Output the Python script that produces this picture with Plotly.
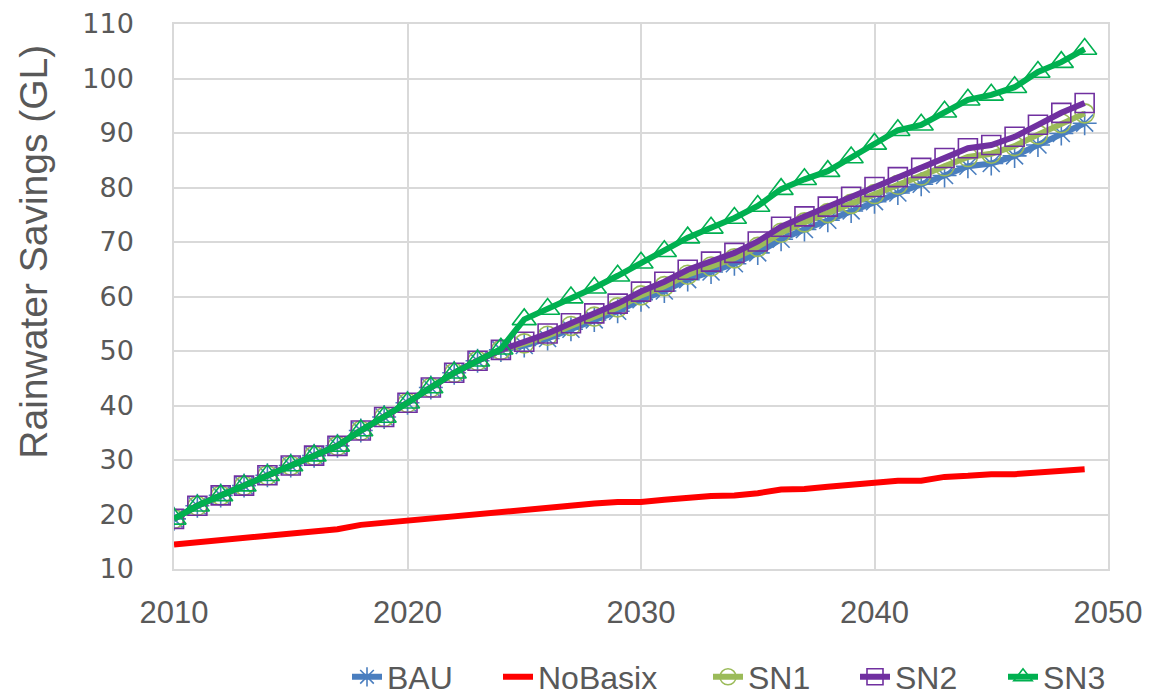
import plotly.graph_objects as go

years = [2010, 2011, 2012, 2013, 2014, 2015, 2016, 2017, 2018, 2019,
         2020, 2021, 2022, 2023, 2024, 2025, 2026, 2027, 2028, 2029,
         2030, 2031, 2032, 2033, 2034, 2035, 2036, 2037, 2038, 2039,
         2040, 2041, 2042, 2043, 2044, 2045, 2046, 2047, 2048, 2049]

bau = [19.2, 21.6, 23.5, 25.3, 27.2, 29.0, 30.8, 32.6, 35.4, 37.9,
       40.5, 43.3, 46.0, 48.2, 50.2, 51.0, 52.3, 54.0, 55.7, 57.3,
       59.4, 61.0, 63.1, 64.5, 66.0, 68.0, 70.5, 72.3, 74.0, 75.7,
       77.4, 79.0, 80.6, 82.2, 83.9, 84.4, 85.8, 87.8, 89.9, 91.8]

nobasix = [14.5, 14.9, 15.3, 15.7, 16.1, 16.4, 16.8, 17.3, 18.1, 18.5,
           18.9, 19.4, 19.8, 20.2, 20.6, 21.0, 21.4, 21.7, 22.0, 22.3,
           22.3, 22.7, 23.1, 23.4, 23.5, 23.9, 24.6, 24.7, 25.1, 25.5,
           25.9, 26.2, 26.2, 26.9, 27.1, 27.4, 27.4, 27.7, 28.0, 28.3]

sn1 = [19.2, 21.6, 23.5, 25.3, 27.2, 29.0, 30.8, 32.6, 35.4, 37.9,
       40.5, 43.3, 46.0, 48.2, 50.2, 51.4, 52.8, 54.6, 56.3, 58.0,
       60.2, 61.9, 64.0, 65.5, 67.0, 69.1, 71.7, 73.6, 75.3, 77.0,
       78.8, 80.5, 82.2, 83.9, 85.6, 86.2, 87.6, 89.7, 91.8, 93.6]

sn2 = [19.2, 21.6, 23.5, 25.3, 27.2, 29.0, 30.8, 32.6, 35.4, 37.9,
       40.5, 43.3, 46.0, 48.2, 50.2, 51.7, 53.2, 55.1, 56.9, 58.7,
       60.9, 62.7, 64.9, 66.4, 68.0, 70.1, 72.8, 74.7, 76.5, 78.3,
       80.1, 81.9, 83.6, 85.4, 87.2, 87.8, 89.3, 91.5, 93.7, 95.5]

sn3 = [19.2, 21.6, 23.5, 25.3, 27.2, 29.0, 30.8, 32.6, 35.4, 37.9,
       40.5, 43.3, 46.0, 48.2, 50.4, 55.8, 57.7, 59.8, 61.6, 63.8,
       66.2, 68.3, 70.8, 72.6, 74.4, 76.6, 79.7, 81.5, 83.0, 85.5,
       88.0, 90.5, 91.5, 93.9, 96.1, 97.0, 98.4, 101.2, 103.0, 105.4]

x_ticks = [2010, 2020, 2030, 2040, 2050]
y_ticks = [10, 20, 30, 40, 50, 60, 70, 80, 90, 100, 110]

# name, values, colour, marker symbol, marker size, legend id, legend left (page px)
series = [
    ("BAU", bau, "#4a7ebf", "asterisk-open", 20, "legend", 347),
    ("NoBasix", nobasix, "#ff0000", None, 0, "legend2", 498),
    ("SN1", sn1, "#9bbb59", "circle-open", 19, "legend3", 708),
    ("SN2", sn2, "#7030a0", "square-open", 19, "legend4", 855),
    ("SN3", sn3, "#00b050", "triangle-up-open", 21, "legend5", 1003),
]

W, H = 1155, 695
OFF = 8  # page body margin of the html page
legend_font = dict(family="Liberation Sans, Arial, sans-serif", size=32, color="#595959")

fig = go.Figure()
legend_layouts = {}
for name, vals, color, sym, size, leg, left in series:
    if sym is None:
        fig.add_trace(go.Scatter(x=years, y=vals, name=name, mode="lines", legend=leg,
                                 line=dict(color=color, width=6)))
    else:
        fig.add_trace(go.Scatter(x=years, y=vals, name=name, mode="lines+markers", legend=leg,
                                 line=dict(color=color, width=6),
                                 marker=dict(symbol=sym, size=size, color=color,
                                             line=dict(color=color, width=1.6))))
    legend_layouts[leg] = dict(orientation="h", xref="container", yref="container",
                               x=(left - OFF) / W, xanchor="left",
                               y=(H - (677 - OFF)) / H, yanchor="middle",
                               font=legend_font, bgcolor="rgba(0,0,0,0)", borderwidth=0)

grid = "#d9d9d9"
fig.update_layout(
    width=W, height=H,
    margin=dict(l=174 - OFF, r=47 + OFF, t=24 - OFF, b=126 + OFF, autoexpand=False),
    paper_bgcolor="white", plot_bgcolor="white",
    showlegend=True,
    xaxis=dict(range=[2010, 2050], tickvals=x_ticks, ticktext=[str(v) for v in x_ticks],
               showgrid=True, gridcolor=grid, gridwidth=1.5, automargin=False,
               showline=True, linecolor=grid, linewidth=1.5, mirror=True,
               zeroline=False, ticks="", ticklabelstandoff=15,
               tickfont=dict(family="Liberation Sans, Arial, sans-serif", size=31, color="#595959")),
    yaxis=dict(range=[10, 110], tickvals=y_ticks, ticktext=[str(v) for v in y_ticks],
               showgrid=True, gridcolor=grid, gridwidth=1.5, automargin=False,
               showline=True, linecolor=grid, linewidth=1.5, mirror=True,
               zeroline=False, ticks="", ticklabelstandoff=33,
               tickfont=dict(family="DejaVu Sans, sans-serif", size=27, color="#595959")),
    annotations=[dict(text="Rainwater Savings (GL)", textangle=-90,
                      xref="paper", yref="paper", x=-0.15, y=0.582,
                      xanchor="center", yanchor="middle", showarrow=False,
                      font=dict(family="Liberation Sans, Arial, sans-serif", size=39, color="#595959"))],
    **legend_layouts,
)

fig.write_html("out.html")
